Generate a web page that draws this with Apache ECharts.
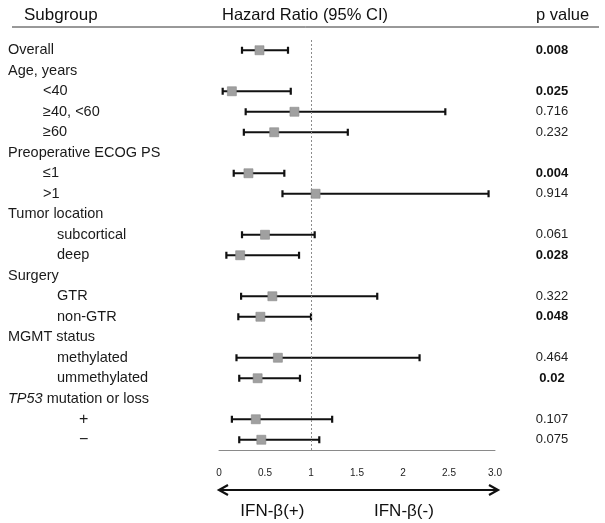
<!DOCTYPE html>
<html><head><meta charset="utf-8">
<script src="https://cdn.jsdelivr.net/npm/echarts@6/dist/echarts.min.js"></script>
<style>html,body{margin:0;padding:0;background:#fff}#c{width:605px;height:523px}</style>
</head><body><div id="c"></div>
<script>
// ---- data ----
const subgroups = ['Overall','Age, years','<40','≥40, <60','≥60','Preoperative ECOG PS','≤1','>1',
  'Tumor location','subcortical','deep','Surgery','GTR','non-GTR','MGMT status','methylated','ummethylated',
  'TP53 mutation or loss','+','−'];
const indentLevel = [0,0,1,1,1,0,1,1,0,2,2,0,2,2,0,2,2,0,3,3];
const hazardRatio = [0.44,null,0.14,0.82,0.60,null,0.32,1.05,null,0.50,0.23,null,0.58,0.45,null,0.64,0.42,null,0.40,0.46];
const ciLow      = [0.25,null,0.04,0.29,0.27,null,0.16,0.69,null,0.25,0.08,null,0.24,0.21,null,0.19,0.22,null,0.14,0.22];
const ciHigh     = [0.75,null,0.78,2.46,1.40,null,0.71,2.93,null,1.04,0.87,null,1.72,1.00,null,2.18,0.88,null,1.23,1.09];
const pValues = ['0.008','','0.025','0.716','0.232','','0.004','0.914','','0.061','0.028','','0.322','0.048','','0.464','0.02','','0.107','0.075'];
const xTicks = [0,0.5,1,1.5,2,2.5,3];
const xTickLabels = ['0','0.5','1','1.5','2','2.5','3.0'];
const refValue = 1;
const directionLabels = ['IFN-β(+)','IFN-β(-)'];
const directionAt = [0.58, 2.01];

// ---- chart ----
const FONT = '"Liberation Sans", Arial, sans-serif';
const chart = echarts.init(document.getElementById('c'), null, {renderer:'canvas'});
const errData = [], ptData = [];
subgroups.forEach((s,i)=>{
  if (hazardRatio[i] != null) { errData.push([i, ciLow[i], ciHigh[i]]); ptData.push([hazardRatio[i], i]); }
});
function catLabel(v, i) {
  if (v.indexOf('TP53') === 0) return '{it|TP53}{l0| mutation or loss}';
  return '{l' + indentLevel[i] + '|' + v + '}';
}
const baseTxt = {fontFamily: FONT, fontSize: 14.5, color: '#1a1a1a'};
chart.setOption({
  animation: false,
  grid: {left: 219, right: 110, top: 40, bottom: 73},
  xAxis: {
    type: 'value', min: 0, max: 3, interval: 0.5,
    axisLine: {show: true, lineStyle: {color: '#8a8a8a', width: 1}},
    axisTick: {show: false}, splitLine: {show: false},
    axisLabel: {fontFamily: FONT, fontSize: 10, color: '#222', margin: 18,
      formatter: v => { const k = xTicks.indexOf(v); return k >= 0 ? xTickLabels[k] : ''; }}
  },
  yAxis: [{
    type: 'category', data: subgroups, inverse: true,
    axisLine: {show: false}, axisTick: {show: false},
    axisLabel: {align: 'left', margin: 211, formatter: catLabel,
      rich: {
        l0: Object.assign({}, baseTxt),
        l1: Object.assign({padding: [0,0,0,35]}, baseTxt),
        l2: Object.assign({padding: [0,0,0,49]}, baseTxt),
        l3: Object.assign({padding: [0,0,0,71]}, baseTxt, {fontSize: 16}),
        it: Object.assign({}, baseTxt, {fontStyle: 'italic'})
      }}
  },{
    type: 'category', data: pValues, inverse: true, position: 'right',
    axisLine: {show: false}, axisTick: {show: false},
    axisLabel: {align: 'center', margin: 57,
      formatter: v => v === '' ? '' : (parseFloat(v) < 0.05 ? '{b|' + v + '}' : '{n|' + v + '}'),
      rich: {
        b: {fontFamily: FONT, fontSize: 13, fontWeight: 'bold', color: '#111'},
        n: {fontFamily: FONT, fontSize: 13, color: '#222'}
      }}
  }],
  series: [{
    type: 'custom', data: errData, encode: {x: [1,2], y: 0},
    renderItem: (params, api) => {
      const y = api.value(0);
      const a = api.coord([api.value(1), y]);
      const b = api.coord([api.value(2), y]);
      const st = {stroke: '#111', lineWidth: 2.2};
      return {type: 'group', children: [
        {type: 'line', shape: {x1: a[0], y1: a[1], x2: b[0], y2: b[1]}, style: st},
        {type: 'line', shape: {x1: a[0], y1: a[1]-3.5, x2: a[0], y2: a[1]+3.5}, style: st},
        {type: 'line', shape: {x1: b[0], y1: b[1]-3.5, x2: b[0], y2: b[1]+3.5}, style: st}
      ]};
    },
    z: 2
  },{
    type: 'scatter', data: ptData, symbol: 'rect', symbolSize: 9,
    itemStyle: {color: '#a0a0a0', borderColor: '#888', borderWidth: 0.6, opacity: 1},
    z: 3,
    markLine: {silent: true, symbol: 'none', label: {show: false},
      lineStyle: {type: [2,2], color: '#8c8c8c', width: 1},
      data: [{xAxis: refValue}]}
  }]
});

// decorations placed through the axis scale
const px = v => chart.convertToPixel({xAxisIndex: 0}, v);
const x0 = px(0), x3 = px(3), ay = 490;
const st = {stroke: '#111', lineWidth: 2.2, fill: null};
chart.setOption({graphic: [
  {type: 'text', left: 24, top: 7, style: {text: 'Subgroup', font: '17px ' + FONT, fill: '#111'}},
  {type: 'text', left: 222, top: 7, style: {text: 'Hazard Ratio (95% CI)', font: '16.5px ' + FONT, fill: '#111'}},
  {type: 'text', left: 536, top: 7, style: {text: 'p value', font: '16.5px ' + FONT, fill: '#111'}},
  {type: 'line', shape: {x1: 12, y1: 27, x2: 599, y2: 27}, style: {stroke: '#333', lineWidth: 1}},
  {type: 'line', shape: {x1: x0, y1: ay, x2: x3 + 3, y2: ay}, style: st},
  {type: 'polyline', shape: {points: [[x0+9, ay-5],[x0, ay],[x0+9, ay+5]]}, style: st},
  {type: 'polyline', shape: {points: [[x3-6, ay-5],[x3+3, ay],[x3-6, ay+5]]}, style: st},
  {type: 'text', x: px(directionAt[0]), y: 511, style: {text: directionLabels[0], font: '17px ' + FONT, fill: '#111', align: 'center', verticalAlign: 'middle'}},
  {type: 'text', x: px(directionAt[1]), y: 511, style: {text: directionLabels[1], font: '17px ' + FONT, fill: '#111', align: 'center', verticalAlign: 'middle'}}
]});
</script>
</body></html>
